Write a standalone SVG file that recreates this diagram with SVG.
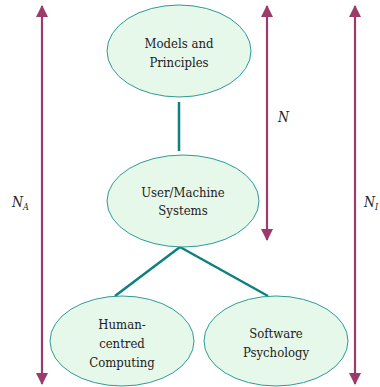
<svg xmlns="http://www.w3.org/2000/svg" width="380" height="387" viewBox="0 0 380 387">
<style>
.node{fill:#e6f8ea;stroke:#2e9a96;stroke-width:1}
.t{font-family:"DejaVu Serif Condensed","DejaVu Serif",serif;font-size:13px;fill:#222;text-anchor:middle}
.lab{font-family:"DejaVu Serif Condensed","DejaVu Serif",serif;font-style:italic;font-size:14px;fill:#222}
.sub{font-size:9px}
.arr{stroke:#9c3a6a;stroke-width:2.2;fill:none}
.con{stroke:#0e8080;stroke-width:2.5;fill:none}
</style>
<defs>
<marker id="ah" viewBox="0 0 12 12" refX="11" refY="6" markerWidth="12" markerHeight="12" markerUnits="userSpaceOnUse" orient="auto">
<path d="M0,0 L12,6 L0,12 Z" fill="#9c3a6a"/>
</marker>
</defs>
<g id="arrows">
<line class="arr" x1="42" y1="195" x2="42" y2="6" marker-end="url(#ah)"/>
<line class="arr" x1="42" y1="195" x2="42" y2="384" marker-end="url(#ah)"/>
<line class="arr" x1="267" y1="120" x2="267" y2="6" marker-end="url(#ah)"/>
<line class="arr" x1="267" y1="120" x2="267" y2="240" marker-end="url(#ah)"/>
<line class="arr" x1="355" y1="195" x2="355" y2="6" marker-end="url(#ah)"/>
<line class="arr" x1="355" y1="195" x2="355" y2="384" marker-end="url(#ah)"/>
</g>
<g id="connectors">
<line class="con" x1="179" y1="102" x2="179" y2="151"/>
<line class="con" x1="180" y1="247" x2="115" y2="296"/>
<line class="con" x1="180" y1="247" x2="268" y2="296"/>
</g>
<g id="models">
<ellipse class="node" cx="179" cy="51" rx="72" ry="46"/>
<text class="t" x="179" y="48">Models and</text>
<text class="t" x="179" y="67">Principles</text>
</g>
<g id="usermachine">
<ellipse class="node" cx="183" cy="201" rx="76" ry="46"/>
<text class="t" x="183" y="197">User/Machine</text>
<text class="t" x="183" y="215">Systems</text>
</g>
<g id="human">
<ellipse class="node" cx="122" cy="341" rx="72" ry="45"/>
<text class="t" x="122" y="329">Human-</text>
<text class="t" x="122" y="348">centred</text>
<text class="t" x="122" y="367">Computing</text>
</g>
<g id="software">
<ellipse class="node" cx="276" cy="341" rx="72" ry="45"/>
<text class="t" x="276" y="338">Software</text>
<text class="t" x="276" y="357">Psychology</text>
</g>
<g id="labels">
<text class="lab" x="278" y="122">N</text>
<text class="lab" x="12" y="207">N<tspan class="sub" dy="3">A</tspan></text>
<text class="lab" x="364" y="207">N<tspan class="sub" dy="3">I</tspan></text>
</g>
</svg>
